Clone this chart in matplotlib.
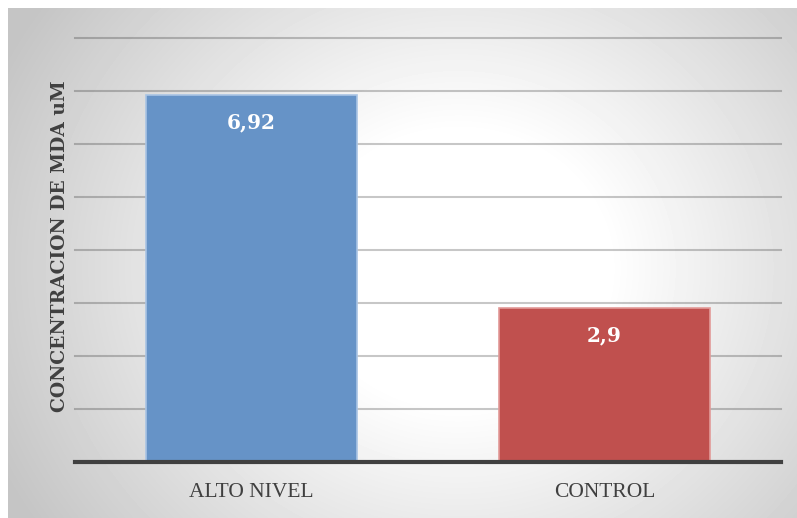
import numpy as np
import matplotlib.pyplot as plt

categories = ["ALTO NIVEL", "CONTROL"]
values = [6.92, 2.9]
value_labels = ["6,92", "2,9"]
bar_colors = ["#6693C7", "#C0504E"]
edge_colors = ["#A9C4E4", "#E29A98"]
ylabel = "CONCENTRACION DE MDA uM"


def main():
    W, H = 797, 518
    fig = plt.figure(figsize=(W / 100, H / 100), dpi=100)
    fig.patch.set_facecolor("white")

    # radial gradient background (white centre, grey edges)
    bg = fig.add_axes([8 / W, 0, (W - 8) / W, (H - 8) / H])
    bw, bh = W - 8, H - 8
    xx, yy = np.meshgrid(np.arange(bw), np.arange(bh))
    d = np.hypot(xx - 450, (yy - 260) * 1.1)
    t = np.clip((d - 150) / 360, 0, 1)
    shade = 1 - t * (1 - 0.77)
    bg.imshow(shade, cmap="gray", vmin=0, vmax=1, aspect="auto",
              extent=[0, bw, bh, 0], interpolation="bilinear")
    bg.set_axis_off()

    ax = fig.add_axes([75 / W, (H - 462) / H, (781 - 75) / W, (462 - 38) / H])
    ax.patch.set_alpha(0)
    x = np.arange(len(categories))
    ax.bar(x, values, width=0.6, color=bar_colors, edgecolor=edge_colors,
           linewidth=1.2, zorder=3)
    ax.set_xlim(-0.5, 1.5)
    ax.set_ylim(0, 8)
    ax.set_yticks(np.arange(1, 9))
    ax.yaxis.grid(True, color="#000000", alpha=0.22, linewidth=1.5, zorder=0)
    for gl in ax.get_ygridlines():
        gl.set_clip_on(False)
    ax.tick_params(axis="y", length=0, labelleft=False)
    ax.tick_params(axis="x", length=0, pad=15)
    ax.set_xticks(x)
    ax.set_xticklabels(categories, fontsize=15.5, color="#404040",
                       family="Liberation Serif")
    for s in ["top", "right", "left"]:
        ax.spines[s].set_visible(False)
    ax.spines["bottom"].set_color("#404040")
    ax.spines["bottom"].set_linewidth(3)
    ax.spines["bottom"].set_zorder(5)

    for xi, v, lab in zip(x, values, value_labels):
        ax.annotate(lab, (xi, v), xytext=(0, -19.5), textcoords="offset points",
                    ha="center", va="center", color="white", fontsize=14.5,
                    fontweight="bold", family="DejaVu Serif", zorder=6)

    fig.text(60 / W, 1 - 246 / H, ylabel, rotation=90, ha="center", va="center",
             fontsize=13.5, fontweight="bold", color="#404040",
             family="DejaVu Serif")

    fig.savefig("out.png", dpi=100)


if __name__ == "__main__":
    main()
